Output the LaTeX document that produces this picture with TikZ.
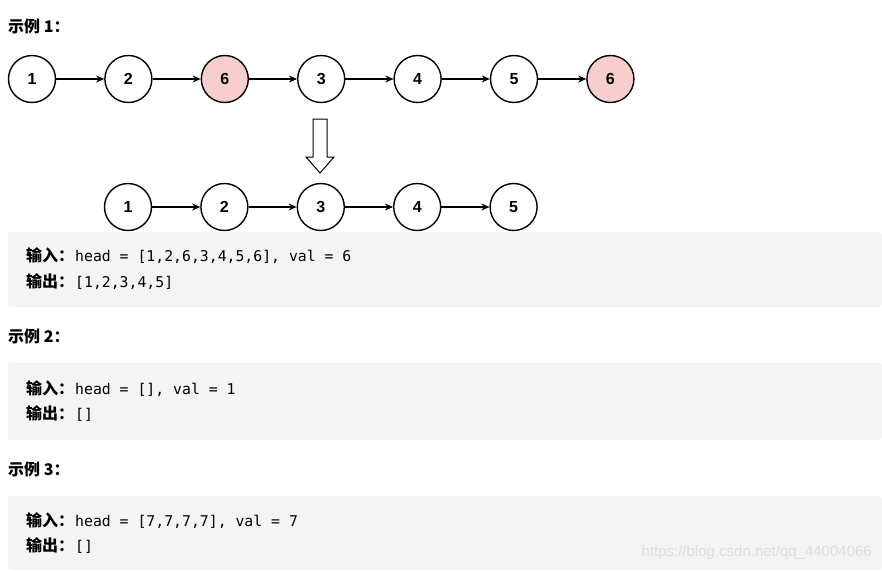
\documentclass[tikz,border=0pt]{standalone}
\usepackage{fontspec}
\setmainfont{Liberation Sans}
\newfontfamily\cjk{Noto Sans CJK SC}
\newfontfamily\code{DejaVu Sans Mono}
\usetikzlibrary{positioning}
\usetikzlibrary{arrows.meta}
\definecolor{pinkfill}{HTML}{F8CECC}
\definecolor{boxgray}{HTML}{F4F4F4}
\definecolor{markgray}{HTML}{DEDEDE}

\begin{document}
\begin{tikzpicture}[x = 1pt, y = -1pt,
	item/.style = {circle, draw = black, line width = 1.4pt, minimum size = 47pt, inner sep = 0pt, font = \fontsize{16}{16}\selectfont\bfseries},
	hit/.style = {item, fill = pinkfill},
	link/.style = {black, line width = 1.1pt, -{Stealth[length = 8pt, width = 7pt]}},
	title/.style = {anchor = base west, inner sep = 0pt, font = \fontsize{16}{16}\selectfont\cjk\bfseries},
	codeline/.style = {anchor = base west, inner sep = 0pt, font = \fontsize{14.8}{15}\selectfont}]
					\fill [white] (0, 0) rectangle (882, 570);
					\useasboundingbox (0, 0) rectangle (882, 570);
					% grey boxes
					\fill [boxgray, rounded corners = 3pt] (8, 232) rectangle (882, 307);
					\fill [boxgray, rounded corners = 3pt] (8, 363) rectangle (882, 440);
					\fill [boxgray, rounded corners = 3pt] (8, 496) rectangle (882, 570);
					% example 1
					\node [title] (t1) at (8, 32) {示例 1：};
					\node [item] (a1) at (32, 79) {1};
					\node [item, right = 48pt of a1] (a2) {2};
					\node [hit, right = 48pt of a2] (a3) {6};
					\node [item, right = 48pt of a3] (a4) {3};
					\node [item, right = 48pt of a4] (a5) {4};
					\node [item, right = 48pt of a5] (a6) {5};
					\node [hit, right = 48pt of a6] (a7) {6};
					\draw [link] (a1) -- (a2);
					\draw [link] (a2) -- (a3);
					\draw [link] (a3) -- (a4);
					\draw [link] (a4) -- (a5);
					\draw [link] (a5) -- (a6);
					\draw [link] (a6) -- (a7);
					\draw [black, line width = 1pt, fill = white] (313, 119) -- (327, 119) -- (327, 157) -- (334, 157) -- (320, 173) -- (306, 157) -- (313, 157) -- cycle;
					\node [item] (b1) at (128, 207) {1};
					\node [item, right = 48pt of b1] (b2) {2};
					\node [item, right = 48pt of b2] (b3) {3};
					\node [item, right = 48pt of b3] (b4) {4};
					\node [item, right = 48pt of b4] (b5) {5};
					\draw [link] (b1) -- (b2);
					\draw [link] (b2) -- (b3);
					\draw [link] (b3) -- (b4);
					\draw [link] (b4) -- (b5);
					\node [codeline] (in1) at (26, 261) {{\cjk\bfseries\fontsize{16}{16}\selectfont 输入：}\hspace{1pt}{\code head = [1,2,6,3,4,5,6], val = 6}};
					\node [codeline] (out1) at (26, 287) {{\cjk\bfseries\fontsize{16}{16}\selectfont 输出：}\hspace{1pt}{\code [1,2,3,4,5]}};
					% example 2
					\node [title] (t2) at (8, 342) {示例 2：};
					\node [codeline] (in2) at (26, 394) {{\cjk\bfseries\fontsize{16}{16}\selectfont 输入：}\hspace{1pt}{\code head = [], val = 1}};
					\node [codeline] (out2) at (26, 419) {{\cjk\bfseries\fontsize{16}{16}\selectfont 输出：}\hspace{1pt}{\code []}};
					% example 3
					\node [title] (t3) at (8, 475) {示例 3：};
					\node [codeline] (in3) at (26, 526) {{\cjk\bfseries\fontsize{16}{16}\selectfont 输入：}\hspace{1pt}{\code head = [7,7,7,7], val = 7}};
					\node [codeline] (out3) at (26, 551) {{\cjk\bfseries\fontsize{16}{16}\selectfont 输出：}\hspace{1pt}{\code []}};
					\node [anchor = base east, inner sep = 0pt, text = markgray, font = \fontsize{15}{15}\selectfont] (mark) at (872, 556) {https://blog.csdn.net/qq\_44004066};
\end{tikzpicture}
\end{document}
